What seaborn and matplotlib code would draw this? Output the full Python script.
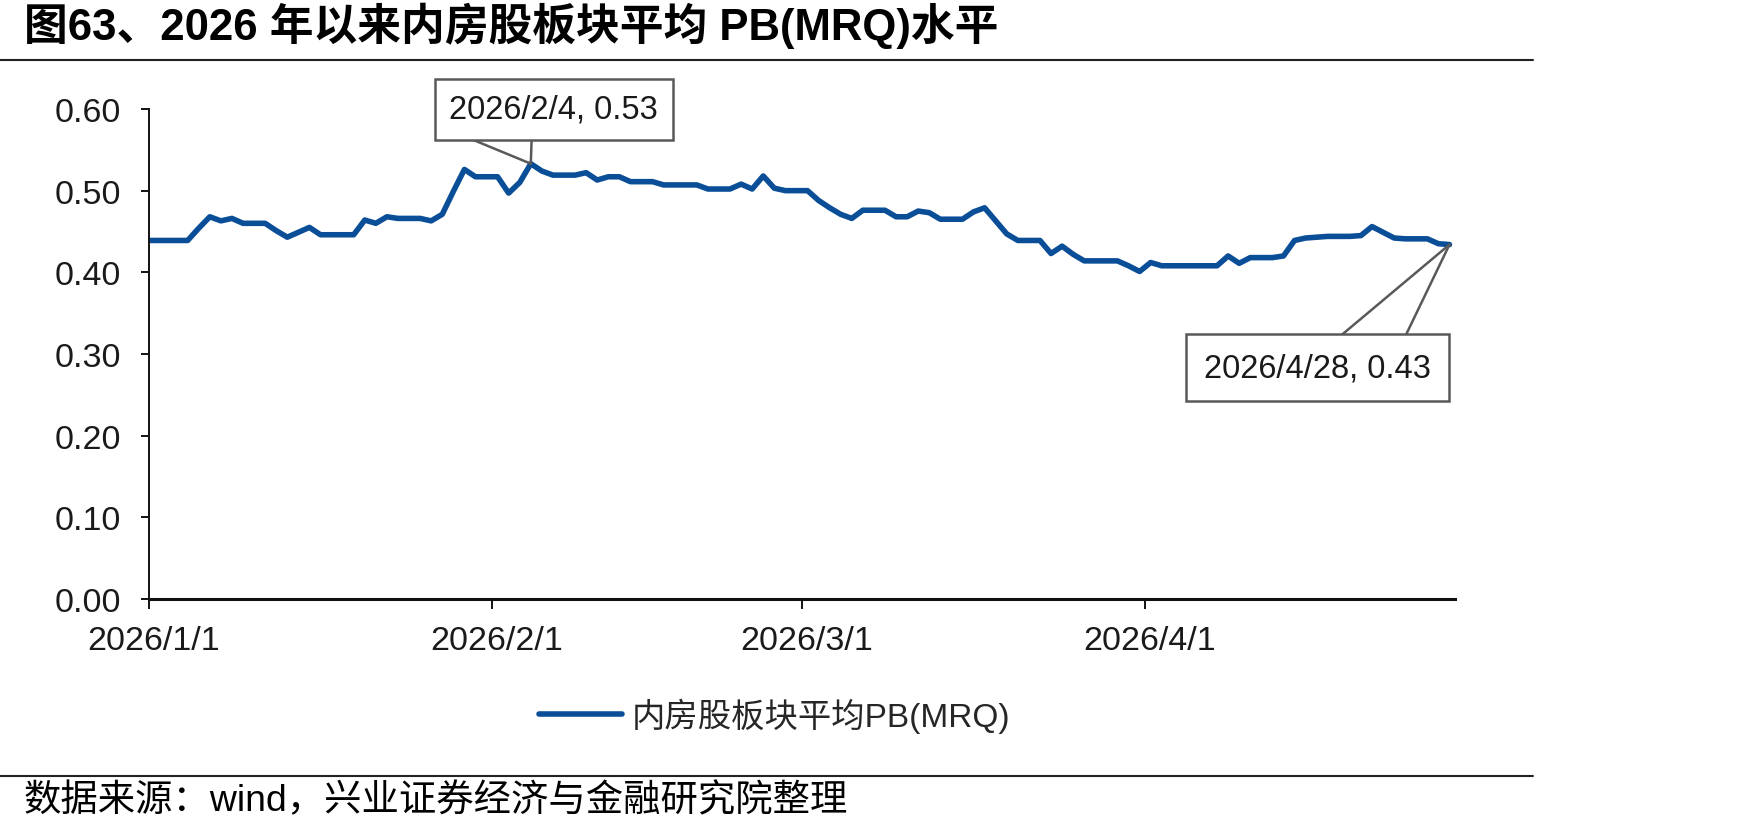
import numpy as np
import pandas as pd
import matplotlib
matplotlib.use("Agg")
import matplotlib.pyplot as plt
from matplotlib.lines import Line2D
from matplotlib.transforms import ScaledTranslation
import seaborn as sns

title = "图63、2026 年以来内房股板块平均 PB(MRQ)水平"
source = "数据来源：wind，兴业证券经济与金融研究院整理"
series_name = "内房股板块平均PB(MRQ)"

# daily PB values (non-trading days carry the last close)
start_date = "2025-12-31"
pb_dec = [0.439]
pb_jan = [0.439, 0.439, 0.439, 0.439, 0.454, 0.468, 0.463,
          0.466, 0.460, 0.460, 0.460, 0.451, 0.443, 0.449,
          0.455, 0.446, 0.446, 0.446, 0.446, 0.464, 0.460,
          0.468, 0.466, 0.466, 0.466, 0.463, 0.471, 0.499,
          0.526, 0.517, 0.517]
pb_feb = [0.517, 0.497, 0.510, 0.533, 0.524, 0.519, 0.519,
          0.519, 0.522, 0.513, 0.517, 0.517, 0.511, 0.511,
          0.511, 0.507, 0.507, 0.507, 0.507, 0.502, 0.502,
          0.502, 0.508, 0.502, 0.518, 0.503, 0.500, 0.500]
pb_mar = [0.500, 0.488, 0.479, 0.471, 0.466, 0.476, 0.476,
          0.476, 0.468, 0.468, 0.475, 0.473, 0.465, 0.465,
          0.465, 0.474, 0.479, 0.463, 0.447, 0.439, 0.439,
          0.439, 0.423, 0.432, 0.422, 0.414, 0.414, 0.414,
          0.414, 0.408, 0.401]
pb_apr = [0.412, 0.408, 0.408, 0.408, 0.408, 0.408, 0.408,
          0.420, 0.411, 0.418, 0.418, 0.418, 0.420, 0.439,
          0.442, 0.443, 0.444, 0.444, 0.444, 0.445, 0.456,
          0.449, 0.442, 0.441, 0.441, 0.441, 0.435, 0.434]

x_ticks = ["2026-01-01", "2026-02-01", "2026-03-01", "2026-04-01"]
x_tick_labels = ["2026/1/1", "2026/2/1", "2026/3/1", "2026/4/1"]
y_ticks = [0.0, 0.1, 0.2, 0.3, 0.4, 0.5, 0.6]
callout_dates = ["2026-02-04", "2026-04-28"]

LINE = "#0A4E98"
GRAY = "#595959"
TXT = "#1a1a1a"

values = pb_dec + pb_jan + pb_feb + pb_mar + pb_apr
dates = pd.date_range(start_date, periods=len(values), freq="D")
half_day = pd.Timedelta(hours=12)  # points sit mid-slot on the date axis
df = pd.DataFrame({"date": dates + half_day, "pb": values})

sns.set_theme(style="ticks")
plt.rcParams["font.family"] = ["Liberation Sans", "Noto Sans CJK SC"]
plt.rcParams["axes.unicode_minus"] = False

fig = plt.figure(figsize=(17.48, 8.37), dpi=100)
ax = fig.add_axes([0.0852, 0.2832, 0.7472, 0.5854])

sns.lineplot(data=df, x="date", y="pb", ax=ax, color=LINE, linewidth=4,
             label=series_name)

ax.set_xlim(pd.Timestamp("2026-01-01"), pd.Timestamp("2026-04-29"))
ax.set_ylim(0, 0.6)
ax.set_xticks(pd.to_datetime(x_ticks))
ax.set_xticklabels(x_tick_labels)
ax.set_yticks(y_ticks)
ax.set_yticklabels([f"{t:.2f}" for t in y_ticks])
ax.set_xlabel("")
ax.set_ylabel("")

for s in ["top", "right"]:
    ax.spines[s].set_visible(False)
ax.spines["left"].set_linewidth(1.4)
ax.spines["bottom"].set_linewidth(2.2)
ax.spines["left"].set_color("#111111")
ax.spines["bottom"].set_color("#111111")
ax.tick_params(axis="x", direction="out", length=7.5, width=1.4, pad=11,
               labelsize=24.5, colors="#111111", labelcolor=TXT)
ax.tick_params(axis="y", direction="out", length=6, width=1.4, pad=14,
               labelsize=24.5, colors="#111111", labelcolor=TXT)
shift = ScaledTranslation(3 / 72, 0, fig.dpi_scale_trans)
for lab in ax.get_xticklabels():
    lab.set_transform(lab.get_transform() + shift)


def callout(day, offset, base, pad):
    # white text box on top, two grey leader lines from its edge to the point
    d = pd.Timestamp(day)
    v = df.loc[df["date"] == d + half_day, "pb"].iloc[0]
    label = f"{d.year}/{d.month}/{d.day}, {v:.2f}"
    common = dict(xy=(d + half_day, v), xytext=offset,
                  textcoords="offset points", ha="center", va="center",
                  fontsize=23.5)
    ax.annotate(label, color=TXT, zorder=6,
                bbox=dict(boxstyle=f"square,pad={pad}", fc="white",
                          ec=GRAY, lw=1.8), **common)
    for rp in base:
        ax.annotate(label, color="none", zorder=5,
                    arrowprops=dict(arrowstyle="-", color=GRAY, lw=1.8,
                                    relpos=rp, patchA=None,
                                    shrinkA=0, shrinkB=0), **common)


callout(callout_dates[0], (16.4, 39.1), [(0.099, -0.44), (0.395, -0.44)], 0.45)
callout(callout_dates[1], (-95, -88.7), [(0.60, 1.52), (0.887, 1.52)], 0.55)

ax.legend(loc="center", bbox_to_anchor=(0.4431, 0.1446),
          bbox_transform=fig.transFigure, frameon=False, fontsize=24,
          handlelength=2.5, handletextpad=0.3)

fig.text(0.0137, 0.969, title, fontsize=31.5, fontweight="bold",
         ha="left", va="center", color="#000000")
fig.text(0.0137, 0.043, source, fontsize=26.9, ha="left", va="center",
         color="#000000")
fig.add_artist(Line2D([0, 0.877], [0.9271, 0.9271], color="#222222", lw=1.5))
fig.add_artist(Line2D([0, 0.877], [0.0717, 0.0717], color="#222222", lw=1.5))

fig.savefig("out.png", dpi=100, facecolor="white")
